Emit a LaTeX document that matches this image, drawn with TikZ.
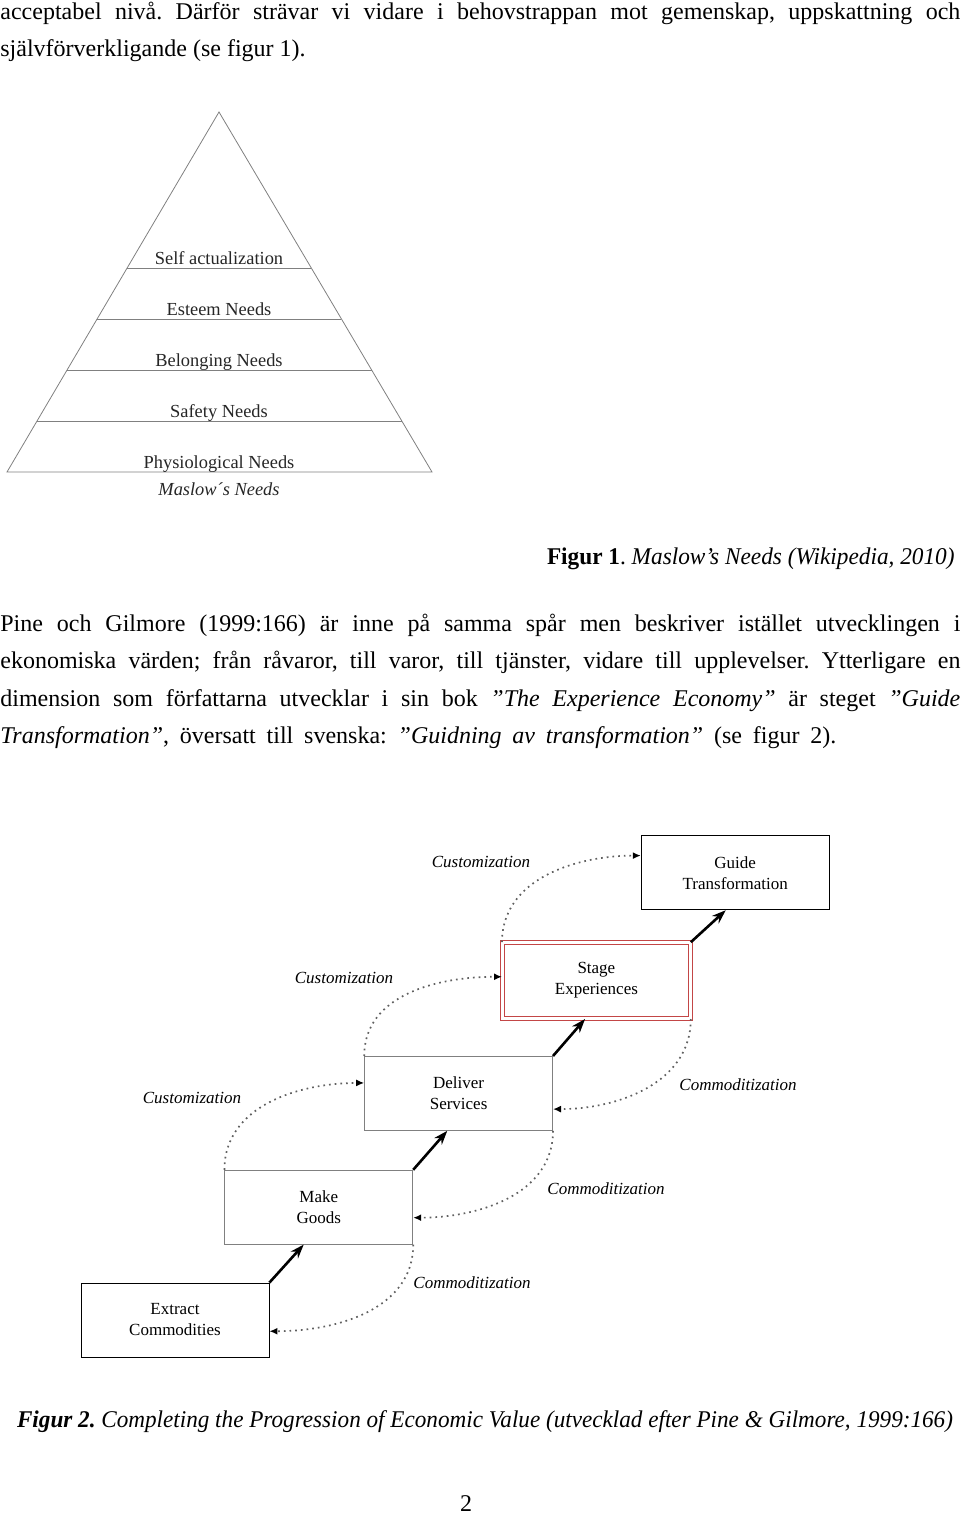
\documentclass[tikz,border=0pt]{standalone}
\usepackage{fontspec}
\setmainfont{Liberation Serif}
\usetikzlibrary{calc,positioning,arrows.meta}
\frenchspacing

\begin{document}
\begin{tikzpicture}[x=0.5pt,y=-0.5pt,
    txt/.style = {anchor=base west, inner sep=0, font=\fontsize{12}{18}\selectfont},
    lvl/.style = {anchor=base, inner sep=0, text=black!85, font=\fontsize{9.2}{10}\selectfont},
    box/.style = {draw, align=center, minimum width=94pt, minimum height=37pt, inner sep=0, font=\fontsize{8.5}{10.5}\selectfont},
    lbl/.style = {inner sep=0, font=\fontsize{8.5}{10}\selectfont\itshape},
    up/.style = {line width=1.3pt, -{Stealth[length=7pt,width=5pt]}},
    dotarrow/.style = {gray!75!black, line width=0.85pt, dash pattern=on 0.85pt off 2pt, -{Latex[length=4pt,width=3.5pt,color=black]}}]
	\useasboundingbox (0,0) rectangle (960,1515);
	\node[txt] (l1) at (0,19) {\makebox[480pt][s]{acceptabel nivå. Därför strävar vi vidare i behovstrappan mot gemenskap, uppskattning och}};
	\node[txt] (l2) at (0,56.5) {självförverkligande (se figur 1).};
	\draw[gray] (219,112) -- (7,472) -- (432,472) -- cycle;
	\foreach \y in {268,319,370,421}
		\draw[gray] ({219-(\y-112)/360*212},\y) -- ({219+(\y-112)/360*213},\y);
	\node[lvl] (n5) at (219,264) {Self actualization};
	\node[lvl] (n4) at (219,315) {Esteem Needs};
	\node[lvl] (n3) at (219,366) {Belonging Needs};
	\node[lvl] (n2) at (219,417) {Safety Needs};
	\node[lvl] (n1) at (219,468) {Physiological Needs};
	\node[lvl, font=\fontsize{9.2}{10}\selectfont\itshape] (n0) at (219,495) {Maslow´s Needs};
	\node[txt, anchor=base east] (f1) at (955,564) {\scalebox{0.97}[1]{\textbf{Figur 1}. \textit{Maslow’s Needs (Wikipedia, 2010)}}};
	\node[txt] (p1) at (0,631) {\makebox[480pt][s]{Pine och Gilmore (1999:166) är inne på samma spår men beskriver istället utvecklingen i}};
	\node[txt] (p2) at (0,668.5) {\makebox[480pt][s]{ekonomiska värden; från råvaror, till varor, till tjänster, vidare till upplevelser. Ytterligare en}};
	\node[txt] (p3) at (0,706) {\makebox[480pt][s]{dimension som författarna utvecklar i sin bok \textit{”The Experience Economy”} är steget \textit{”Guide}}};
	\node[txt] (p4) at (0,743.5) {\makebox[418pt][s]{\textit{Transformation”}, översatt till svenska: \textit{”Guidning av transformation”} (se figur 2).}};
	\node[box, draw=black] (ec) at (175,1320) {Extract\\Commodities};
	\node[box, draw=gray] (mg) [above right=19pt and -22.5pt of ec] {Make\\Goods};
	\node[box, draw=gray] (ds) [above right=19.5pt and -24.5pt of mg] {Deliver\\Services};
	\node[box, draw={rgb,255:red,195;green,70;blue,70}, double, double distance=1.5pt, minimum height=38pt] (se) [above right=18.5pt and -25.5pt of ds] {Stage\\Experiences};
	\node[box, draw=black] (gt) [above right=16pt and -25pt of se] {Guide\\Transformation};
	\draw[up] (ec.north east) -- ($(mg.south west)!.42!(mg.south east)$);
	\draw[up] (mg.north east) -- ($(ds.south west)!.44!(ds.south east)$);
	\draw[up] (ds.north east) -- ($(se.south west)!.44!(se.south east)$);
	\draw[up] (se.north east) -- ($(gt.south west)!.45!(gt.south east)$);
	\draw[dotarrow] (mg.north west) to[out=90,in=180] ($(ds.north west)!.36!(ds.south west)$);
	\draw[dotarrow] (ds.north west) to[out=90,in=180] ($(se.north west)!.45!(se.south west)$);
	\draw[dotarrow] (se.north west) to[out=90,in=180] ($(gt.north west)!.27!(gt.south west)$);
	\draw[dotarrow] (se.south east) to[out=-90,in=0] ($(ds.north east)!.71!(ds.south east)$);
	\draw[dotarrow] (ds.south east) to[out=-90,in=0] ($(mg.north east)!.64!(mg.south east)$);
	\draw[dotarrow] (mg.south east) to[out=-90,in=0] ($(ec.north east)!.65!(ec.south east)$);
	\node[lbl] (c3) at (481,862) {Customization};
	\node[lbl] (c2) at (344,978) {Customization};
	\node[lbl] (c1) at (192,1098) {Customization};
	\node[lbl] (m3) at (738,1085) {Commoditization};
	\node[lbl] (m2) at (606,1189) {Commoditization};
	\node[lbl] (m1) at (472,1283) {Commoditization};
	\node[txt, anchor=base] (f2) at (485,1427) {\scalebox{0.965}[1]{\textit{\textbf{Figur 2.} Completing the Progression of Economic Value (utvecklad efter Pine \& Gilmore, 1999:166)}}};
	\node[txt, anchor=base] (pg) at (466,1511) {2};
\end{tikzpicture}
\end{document}
